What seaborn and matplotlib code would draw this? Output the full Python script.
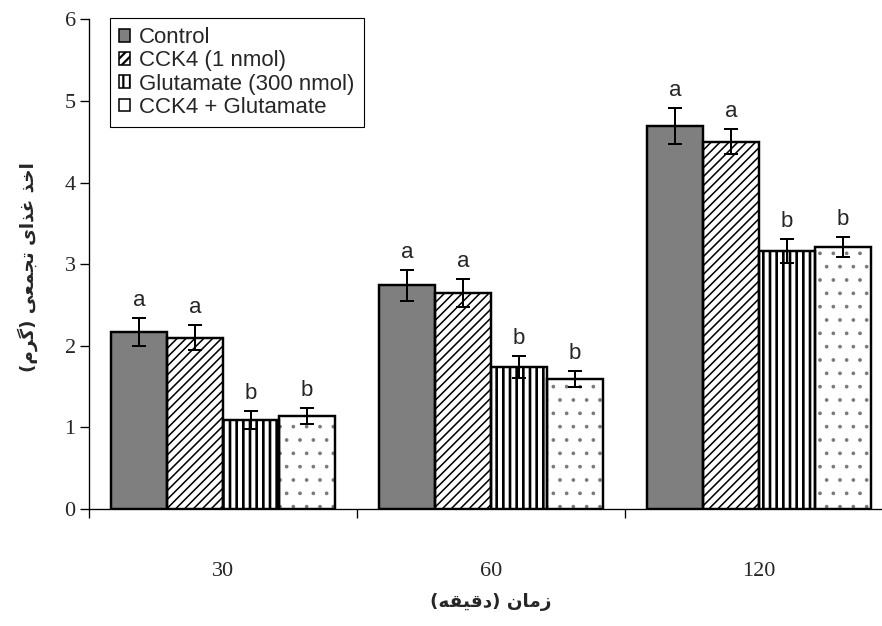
import matplotlib
matplotlib.use("Agg")
import matplotlib.pyplot as plt
import pandas as pd
import seaborn as sns
from matplotlib.patches import Patch, Rectangle

# داده‌ها (خوانده شده از شکل)
times = ["30", "60", "120"]
groups = ["Control", "CCK4 (1 nmol)", "Glutamate (300 nmol)", "CCK4 + Glutamate"]
control_mean = [2.17, 2.74, 4.69]
control_err = [0.17, 0.19, 0.22]
cck4_mean = [2.10, 2.65, 4.50]
cck4_err = [0.15, 0.17, 0.15]
glu_mean = [1.09, 1.74, 3.16]
glu_err = [0.11, 0.13, 0.15]
combo_mean = [1.14, 1.59, 3.21]
combo_err = [0.10, 0.10, 0.12]
letters = [["a", "a", "a"], ["a", "a", "a"], ["b", "b", "b"], ["b", "b", "b"]]

ylabel_fa = "اخذ غذای تجمعی (گرم)"
xlabel_fa = "زمان (دقیقه)"

# matplotlib has no Arabic shaping -> map to presentation forms, visual order
FORMS = {
    "ا": ("\uFE8D", "\uFE8E"), "د": ("\uFEA9", "\uFEAA"),
    "ذ": ("\uFEAB", "\uFEAC"), "ر": ("\uFEAD", "\uFEAE"),
    "ز": ("\uFEAF", "\uFEB0"),
    "ت": ("\uFE95", "\uFE96", "\uFE97", "\uFE98"),
    "ج": ("\uFE9D", "\uFE9E", "\uFE9F", "\uFEA0"),
    "خ": ("\uFEA5", "\uFEA6", "\uFEA7", "\uFEA8"),
    "ع": ("\uFEC9", "\uFECA", "\uFECB", "\uFECC"),
    "غ": ("\uFECD", "\uFECE", "\uFECF", "\uFED0"),
    "ق": ("\uFED5", "\uFED6", "\uFED7", "\uFED8"),
    "م": ("\uFEE1", "\uFEE2", "\uFEE3", "\uFEE4"),
    "ن": ("\uFEE5", "\uFEE6", "\uFEE7", "\uFEE8"),
    "ه": ("\uFEE9", "\uFEEA", "\uFEEB", "\uFEEC"),
    "ی": ("\uFBFC", "\uFBFD", "\uFBFE", "\uFBFF"),
    "گ": ("\uFB92", "\uFB93", "\uFB94", "\uFB95"),
}


def shape_fa(text):
    out = []
    for i, ch in enumerate(text):
        if ch not in FORMS:
            out.append(ch)
            continue
        prev = text[i - 1] if i > 0 else ""
        nxt = text[i + 1] if i + 1 < len(text) else ""
        join_prev = prev in FORMS and len(FORMS[prev]) == 4
        join_next = len(FORMS[ch]) == 4 and nxt in FORMS
        idx = 3 if (join_prev and join_next) else 1 if join_prev else 2 if join_next else 0
        out.append(FORMS[ch][idx])
    vis = "".join(reversed(out))
    return vis.translate(str.maketrans("()", ")("))


df = pd.DataFrame({
    "time": times * 4,
    "group": [g for g in groups for _ in times],
    "mean": control_mean + cck4_mean + glu_mean + combo_mean,
    "err": control_err + cck4_err + glu_err + combo_err,
})

sns.set_style("ticks")
plt.rcParams["font.family"] = ["Liberation Serif", "DejaVu Serif"]
plt.rcParams["hatch.linewidth"] = 2.0

FACE = {groups[0]: "#7f7f7f", groups[1]: "white", groups[2]: "white", groups[3]: "white"}
HATCHES = ["", "///", "||", "."]
HATCH_COLORS = ["#7f7f7f", "black", "black", "#777777"]
HATCH_LW = [1.0, 1.4, 2.4, 0.9]

fig = plt.figure(figsize=(882 / 80, 626 / 80), dpi=80)
ax = fig.add_axes([89 / 882, 1 - 509 / 626, 804 / 882, 489.7 / 626])

sns.barplot(data=df, x="time", y="mean", hue="group", order=times, hue_order=groups,
            palette=FACE, saturation=1, width=0.833, gap=0, errorbar=None,
            legend=False, ax=ax)

for k, (cont, h, hc) in enumerate(zip(ax.containers, HATCHES, HATCH_COLORS)):
    sub = df[df["group"] == groups[k]]
    xs = []
    for p in cont:
        p.set_hatch(h)
        p.set_edgecolor(hc)
        p.set_linewidth(0)
        if hasattr(p, "set_hatch_linewidth"):
            p.set_hatch_linewidth(HATCH_LW[k])
        ax.add_patch(Rectangle(p.get_xy(), p.get_width(), p.get_height(), fill=False,
                               edgecolor="black", linewidth=2.2, zorder=3))
        xs.append(p.get_x() + p.get_width() / 2)
    ax.errorbar(xs, sub["mean"], yerr=sub["err"], fmt="none", ecolor="black",
                elinewidth=1.8, capsize=6.5, capthick=1.8, zorder=4)
    for x, m, e, lt in zip(xs, sub["mean"], sub["err"], letters[k]):
        ax.annotate(lt, (x, m + e), xytext=(0, 11), textcoords="offset points",
                    ha="center", va="baseline", fontsize=20, family="Liberation Sans")

ax.set_ylim(0, 6)
ax.set_yticks(range(7))
ax.set_xlim(-0.5, 2.5)
ax.set_xticks([-0.5, 0.5, 1.5, 2.5], labels=[""] * 4)
ax.set_xticks([0, 1, 2], labels=times, minor=True)
ax.tick_params(axis="y", length=8, width=1.2, labelsize=20, pad=4, color="black")
ax.tick_params(axis="x", which="major", length=8, width=1.2, color="black")
ax.tick_params(axis="x", which="minor", length=0, pad=48, labelsize=20)
sns.despine(ax=ax, top=True, right=True)
for s in ["left", "bottom"]:
    ax.spines[s].set_color("black")
    ax.spines[s].set_linewidth(1.2)

LEG_HATCHES = ["", "///", "||", ""]
handles = [Patch(facecolor=FACE[g], edgecolor="black", hatch=h, linewidth=1.4)
           for g, h in zip(groups, LEG_HATCHES)]
leg = ax.legend(handles, groups, loc="upper left", bbox_to_anchor=(0.026, 1.003),
                borderaxespad=0, frameon=True, fancybox=False, edgecolor="black",
                framealpha=1, prop={"family": "Liberation Sans", "size": 20},
                handlelength=0.5, handleheight=0.5, handletextpad=0.4,
                labelspacing=0.1, borderpad=0.42)
leg.get_frame().set_linewidth(1.0)

ax.set_ylabel(shape_fa(ylabel_fa), fontsize=16.5, fontweight="bold", family="DejaVu Sans")
ax.yaxis.set_label_coords(-0.064, 0.495)
ax.set_xlabel(shape_fa(xlabel_fa), fontsize=16.5, fontweight="bold", family="DejaVu Sans")
ax.xaxis.set_label_coords(0.5, -0.172)

fig.savefig("out.png", dpi=80)
